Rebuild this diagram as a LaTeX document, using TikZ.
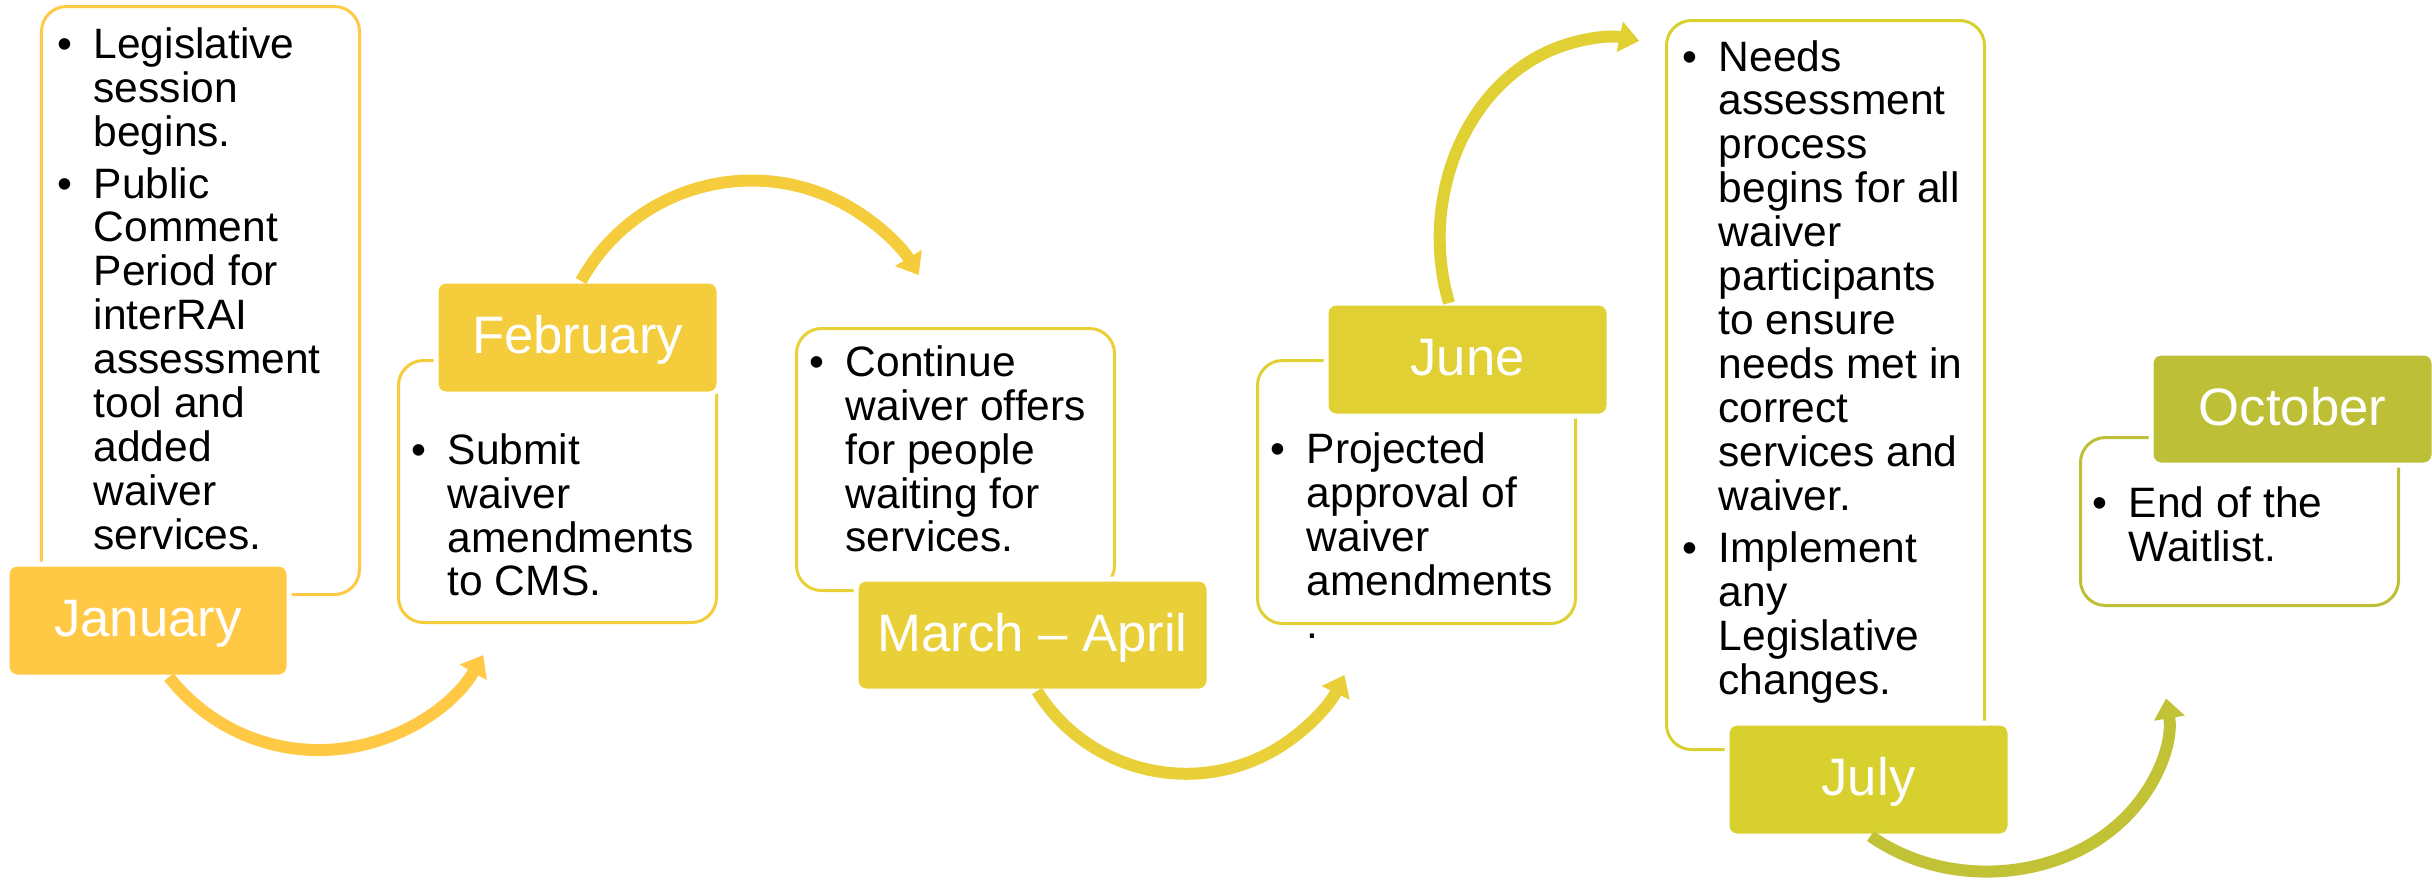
\documentclass[tikz,border=0pt]{standalone}
\usepackage{fontspec}
\setmainfont{Liberation Sans}
\usepackage{xcolor}
\usetikzlibrary{positioning, arrows.meta}

\definecolor{janyel}{HTML}{FFC845}
\definecolor{febyel}{HTML}{F5CC3C}
\definecolor{maryel}{HTML}{E9D038}
\definecolor{junyel}{HTML}{E0D033}
\definecolor{julyel}{HTML}{D7D02F}
\definecolor{julhop}{HTML}{C2C236}
\definecolor{octyel}{HTML}{BDC037}

% bullet cell of a month box
\newcommand{\bl}{\makebox[0.365cm][l]{\textbullet}}

\begin{document}
\begin{tikzpicture}[
    panel/.style={rectangle, draw, line width=0.03cm, rounded corners=0.25cm, fill=white, anchor=north west, inner sep=0pt},
    month/.style={rectangle, draw=white, line width=0.05cm, rounded corners=0.1cm, anchor=north west, inner sep=0pt, outer sep=0pt, text=white, font=\fontsize{15}{18}\selectfont, text height=0.40cm, text depth=0.08cm},
    bullets/.style={anchor=base west, inner sep=0pt, font=\fontsize{12.1}{12.5}\selectfont},
    hop/.style={line width=0.12cm, -{Triangle[length=0.2cm, width=0.3cm]}}
]
\path[use as bounding box, fill=white] (0,0) rectangle (24.32,-8.79);

% Text boxes
\node[panel, draw=janyel, minimum width=3.18cm, minimum height=5.88cm] (janbox) at (0.40,-0.05) {};
\node[panel, draw=febyel, minimum width=3.18cm, minimum height=2.62cm] (febbox) at (3.97,-3.59) {};
\node[panel, draw=maryel, minimum width=3.18cm, minimum height=2.62cm] (marbox) at (7.95,-3.27) {};
\node[panel, draw=junyel, minimum width=3.18cm, minimum height=2.63cm] (junbox) at (12.56,-3.59) {};
\node[panel, draw=julyel, minimum width=3.18cm, minimum height=7.29cm] (julbox) at (16.65,-0.19) {};
\node[panel, draw=octyel, minimum width=3.18cm, minimum height=1.68cm] (octbox) at (20.79,-4.36) {};

% Bullet texts
\node[bullets] (jantxt) at (0.565,-0.58) {\begin{tabular}[t]{@{}l@{}l@{}}
  \bl & Legislative\\ & session\\ & begins.\\[0.08cm]
  \bl & Public\\ & Comment\\ & Period for\\ & interRAI\\ & assessment\\ & tool and\\ & added\\ & waiver\\ & services.
  \end{tabular}};
\node[bullets] (febtxt) at (4.105,-4.64) {\begin{tabular}[t]{@{}l@{}l@{}}
  \bl & Submit\\ & waiver\\ & amendments\\ & to CMS.
  \end{tabular}};
\node[bullets] (martxt) at (8.085,-3.76) {\begin{tabular}[t]{@{}l@{}l@{}}
  \bl & Continue\\ & waiver offers\\ & for people\\ & waiting for\\ & services.
  \end{tabular}};
\node[bullets] (juntxt) at (12.695,-4.63) {\begin{tabular}[t]{@{}l@{}l@{}}
  \bl & Projected\\ & approval of\\ & waiver\\ & amendments\\ & .
  \end{tabular}};
\node[bullets] (jultxt) at (16.815,-0.71) {\begin{tabular}[t]{@{}l@{}l@{}}
  \bl & Needs\\ & assessment\\ & process\\ & begins for all\\ & waiver\\ & participants\\ & to ensure\\ & needs met in\\ & correct\\ & services and\\ & waiver.\\[0.08cm]
  \bl & Implement\\ & any\\ & Legislative\\ & changes.
  \end{tabular}};
\node[bullets] (octtxt) at (20.915,-5.17) {\begin{tabular}[t]{@{}l@{}l@{}}
  \bl & End of the\\ & Waitlist.
  \end{tabular}};

% Month labels
\node[month, fill=janyel, minimum width=2.82cm, minimum height=1.13cm] (janlbl) at (0.07,-5.64) {January};
\node[month, fill=febyel, minimum width=2.83cm, minimum height=1.13cm] (feblbl) at (4.36,-2.81) {February};
\node[month, fill=maryel, minimum width=3.53cm, minimum height=1.12cm] (marlbl) at (8.56,-5.79) {March -- April};
\node[month, fill=junyel, minimum width=2.83cm, minimum height=1.13cm] (junlbl) at (13.26,-3.03) {June};
\node[month, fill=julyel, minimum width=2.83cm, minimum height=1.13cm] (jullbl) at (17.27,-7.23) {July};
\node[month, fill=octyel, minimum width=2.83cm, minimum height=1.12cm] (octlbl) at (21.51,-3.53) {October};

% Arrows between months
\draw[hop, janyel] ([xshift=0.21cm]janlbl.south) arc[start angle=218, end angle=330, radius=1.9cm];
\draw[hop, febyel] ([xshift=0.035cm]feblbl.north) arc[start angle=151, end angle=31, radius=1.95cm];
\draw[hop, maryel] ([xshift=0.045cm]marlbl.south) arc[start angle=212, end angle=334, radius=1.76cm];
\draw[hop, junyel] ([xshift=-0.185cm]junlbl.north) arc[start angle=199, end angle=80, x radius=1.7cm, y radius=2cm];
\draw[hop, julhop] ([xshift=0.02cm]jullbl.south) arc[start angle=230, end angle=368, x radius=1.81cm, y radius=1.52cm];

\end{tikzpicture}
\end{document}
